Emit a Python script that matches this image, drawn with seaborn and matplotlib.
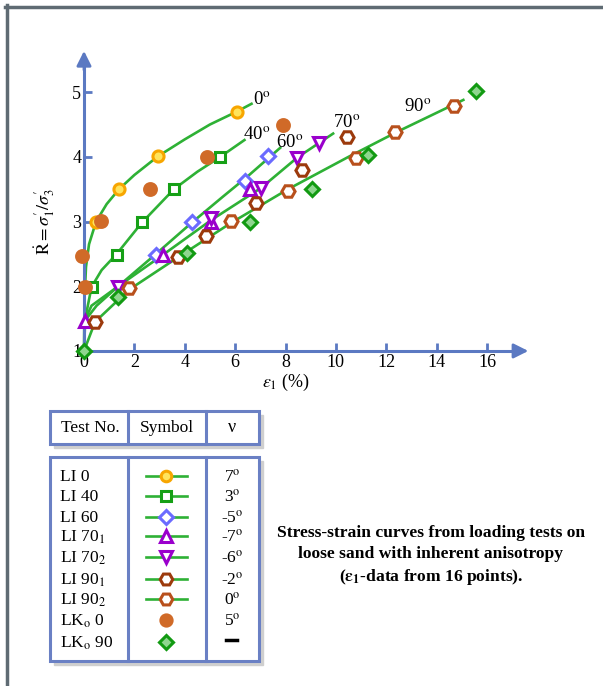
import matplotlib
matplotlib.use("Agg")
import matplotlib.pyplot as plt
import numpy as np
import pandas as pd
import seaborn as sns
from matplotlib.lines import Line2D
from matplotlib.patches import Rectangle

# ---- data ----
li0_x = [0.48, 1.39, 2.95, 6.07]
li0_y = [3.0, 3.5, 4.01, 4.70]
li40_x = [0.30, 1.30, 2.29, 3.57, 5.41]
li40_y = [1.99, 2.48, 3.0, 3.51, 4.0]
li60_x = [2.86, 4.27, 6.39, 7.29]
li60_y = [2.49, 2.99, 3.63, 4.02]
li701_x = [0.04, 3.15, 5.04, 6.61]
li701_y = [1.47, 2.49, 3.0, 3.51]
li702_x = [1.36, 5.04, 7.03, 8.47, 9.31]
li702_y = [1.99, 3.05, 3.52, 3.99, 4.21]
li901_x = [0.44, 3.74, 4.83, 6.83, 8.64, 10.44]
li901_y = [1.45, 2.45, 2.78, 3.28, 3.80, 4.30]
li902_x = [1.80, 5.84, 8.11, 10.80, 12.35, 14.69]
li902_y = [1.97, 3.01, 3.48, 3.99, 4.39, 4.78]
lk0_x = [-0.09, 0.04, 0.66, 2.62, 4.88, 7.91]
lk0_y = [2.47, 1.99, 3.01, 3.50, 4.0, 4.50]
lk90_x = [0.0, 1.36, 4.08, 6.59, 9.05, 11.26, 15.55]
lk90_y = [1.0, 1.83, 2.51, 3.0, 3.50, 4.03, 5.02]

# fitted curves (traced)
c0_x = [0, 0.02, 0.08, 0.2, 0.48, 0.9, 1.39, 2.0, 2.94, 4.0, 5.0, 6.07, 6.65]
c0_y = [1.0, 1.8, 2.3, 2.65, 3.0, 3.27, 3.5, 3.72, 4.01, 4.27, 4.5, 4.70, 4.82]
c40_x = [0, 0.05, 0.3, 0.7, 1.3, 2.29, 3.57, 4.5, 5.41, 6.37]
c40_y = [1.0, 1.5, 1.99, 2.25, 2.5, 2.98, 3.5, 3.77, 4.0, 4.26]
c60_x = [0, 0.3, 1.36, 2.86, 4.27, 5.5, 6.5, 7.79]
c60_y = [1.45, 1.7, 2.0, 2.5, 2.98, 3.38, 3.7, 4.14]
c70_x = [0, 0.5, 1.36, 3.15, 5.04, 7.03, 8.47, 9.89]
c70_y = [1.45, 1.7, 2.0, 2.49, 3.02, 3.52, 3.99, 4.36]
c90_x = [0, 0.44, 1.8, 3.74, 5.84, 8.1, 10.5, 12.5, 15.06]
c90_y = [1.0, 1.45, 1.95, 2.45, 2.98, 3.5, 4.0, 4.4, 4.88]

curve_labels = ["0", "40", "60", "70", "90"]
curve_lab_x = [7.07, 6.87, 8.18, 10.44, 13.26]
curve_lab_y = [4.88, 4.34, 4.21, 4.52, 4.76]

test_names = ["LI 0", "LI 40", "LI 60", r"LI 70$_1$", r"LI 70$_2$",
              r"LI 90$_1$", r"LI 90$_2$", r"LK$_\mathrm{o}$ 0", r"LK$_\mathrm{o}$ 90"]
nu_vals = ["7", "3", "-5", "-7", "-6", "-2", "0", "5", None]

caption = ("Stress-strain curves from loading tests on\n"
           "loose sand with inherent anisotropy\n"
           r"($\mathbf{\varepsilon_1}$-data from 16 points).")

# ---- styles ----
GREEN = "#2eb135"
AXBLUE = "#5b79c2"
styles = [
    # name, x, y, marker, edge, face, size
    ("LI 0", li0_x, li0_y, "o", "#f7a600", "#ffe45c", 8),
    ("LI 40", li40_x, li40_y, "s", "#16a016", "white", 7),
    ("LI 60", li60_x, li60_y, "D", "#6b6bff", "white", 7),
    ("LI 70_1", li701_x, li701_y, "^", "#9a00cc", "white", 8.5),
    ("LI 70_2", li702_x, li702_y, "v", "#9a00cc", "white", 8.5),
    ("LI 90_1", li901_x, li901_y, "H", "#9c3a0c", "white", 9.5),
    ("LI 90_2", li902_x, li902_y, "H", "#b8501c", "white", 9.5),
    ("LKo 0", lk0_x, lk0_y, "o", "#d06a28", "#d06a28", 8.5),
    ("LKo 90", lk90_x, lk90_y, "D", "#129a12", "#8fd68f", 7),
]

plt.rcParams["font.family"] = ["Liberation Serif", "DejaVu Serif"]
plt.rcParams["mathtext.fontset"] = "stix"

fig = plt.figure(figsize=(6.03, 6.86), dpi=100)

# overlay axes in pixel coords for frame, table and caption
ov = fig.add_axes([0, 0, 1, 1])
ov.set_xlim(0, 603)
ov.set_ylim(686, 0)
ov.axis("off")

ov.add_line(Line2D([5, 603], [7, 7], color="#5f6b73", lw=2.5))
ov.add_line(Line2D([7, 7], [5, 686], color="#5f6b73", lw=2.5))

# main plot axes
ax = fig.add_axes([71.4 / 603, 1 - 363.9 / 686, 466 / 603, 323.5 / 686])
ax.patch.set_alpha(0)
ax.set_xlim(-0.5, 18)
ax.set_ylim(0.8, 5.8)

curves = [(c0_x, c0_y), (c40_x, c40_y), (c60_x, c60_y), (c70_x, c70_y), (c90_x, c90_y)]
for cx, cy in curves:
    sns.lineplot(x=cx, y=cy, ax=ax, color=GREEN, lw=1.9, sort=False,
                 estimator=None, zorder=2)

for name, xs, ys, mk, ec, fc, ms in styles:
    ax.plot(xs, ys, ls="none", marker=mk, ms=ms, mec=ec, mfc=fc, mew=2.2,
            zorder=3, clip_on=False)

for lab, lx, ly in zip(curve_labels, curve_lab_x, curve_lab_y):
    ax.text(lx, ly, lab + r"$^\mathrm{o}$", fontsize=13.5, ha="center", va="center")

for s in ["top", "right"]:
    ax.spines[s].set_visible(False)
ax.spines["left"].set_position(("data", 0))
ax.spines["bottom"].set_position(("data", 1))
ax.spines["left"].set_bounds(1, 5.5)
ax.spines["bottom"].set_bounds(0, 17.3)
for s in ["left", "bottom"]:
    ax.spines[s].set_color(AXBLUE)
    ax.spines[s].set_linewidth(2.2)
ax.annotate("", xy=(17.75, 1), xytext=(17.0, 1),
            arrowprops=dict(arrowstyle="-|>", color=AXBLUE, lw=2, mutation_scale=22))
ax.annotate("", xy=(0, 5.68), xytext=(0, 5.3),
            arrowprops=dict(arrowstyle="-|>", color=AXBLUE, lw=2, mutation_scale=22))
ax.set_xticks(range(0, 17, 2))
ax.set_yticks(range(1, 6))
ax.tick_params(direction="in", length=6, width=2, color=AXBLUE, labelsize=13, pad=2)
ax.set_xlabel("")
ax.set_ylabel("")
ax.text(8.0, 0.52, r"$\varepsilon_1$ (%)", fontsize=13, ha="center", va="center")
ax.text(-1.55, 3.0, r"$\dot{\mathrm{R}}=\sigma_1'/\sigma_3'$", fontsize=13,
        rotation=90, ha="center", va="center")

# ---- table ----
TBLUE = "#6a80c4"
def box(x0, y0, x1, y1):
    ov.add_patch(Rectangle((x0 + 4, y0 + 4), x1 - x0, y1 - y0, color="#cfcfcf", zorder=1))
    ov.add_patch(Rectangle((x0, y0), x1 - x0, y1 - y0, fc="white", ec=TBLUE, lw=2.2, zorder=2))
    ov.add_line(Line2D([128, 128], [y0, y1], color=TBLUE, lw=2.2, zorder=3))
    ov.add_line(Line2D([206, 206], [y0, y1], color=TBLUE, lw=2.2, zorder=3))

box(50, 411, 259, 444)
box(50, 457, 259, 661)
ov.text(90, 428, "Test No.", fontsize=12.5, ha="center", va="center", zorder=4)
ov.text(167, 428, "Symbol", fontsize=12.5, ha="center", va="center", zorder=4)
ov.text(232, 428, "ν", fontsize=13, ha="center", va="center", zorder=4)

row_y = [477, 497, 518, 537, 558, 580, 600, 621, 643]
for i, (name, xs, ys, mk, ec, fc, ms) in enumerate(styles):
    yy = row_y[i]
    ov.text(60, yy, test_names[i], fontsize=12.5, ha="left", va="center", zorder=4)
    if i < 7:
        ov.add_line(Line2D([146, 187], [yy - 1, yy - 1], color=GREEN, lw=1.9, zorder=4))
    ov.plot([166], [yy - 1], ls="none", marker=mk, ms=ms * 0.95, mec=ec, mfc=fc,
            mew=2.2, zorder=5)
    if nu_vals[i] is not None:
        ov.text(232, yy, nu_vals[i] + r"$^\mathrm{o}$", fontsize=12.5, ha="center",
                va="center", zorder=4)
    else:
        ov.add_line(Line2D([226, 237], [yy - 3, yy - 3], color="black", lw=2.5, zorder=4))

ov.text(431, 556, caption, fontsize=12.6, fontweight="bold", ha="center",
        va="center", linespacing=1.4, zorder=4)

fig.savefig("out.png", dpi=100)
